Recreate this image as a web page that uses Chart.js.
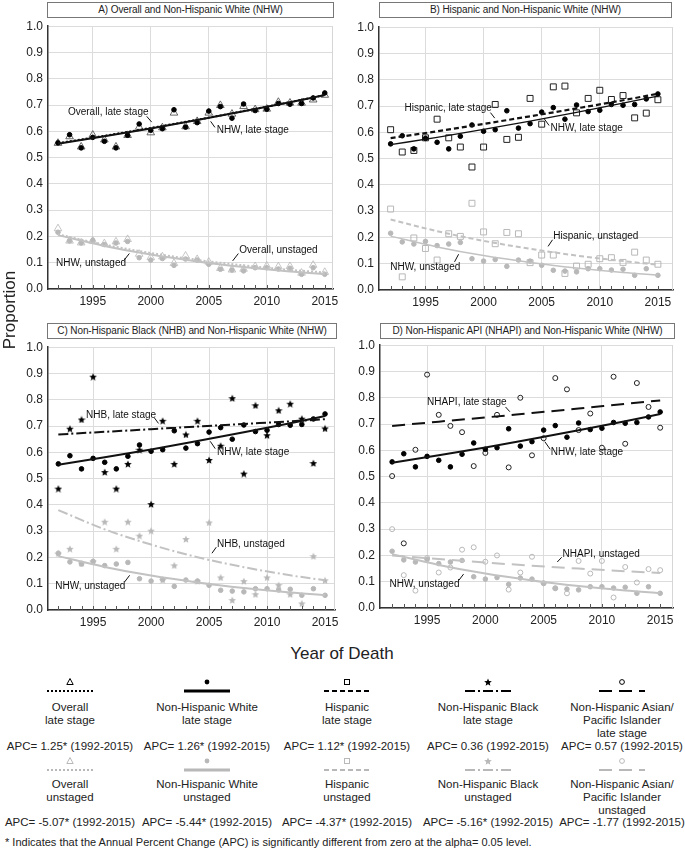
<!DOCTYPE html>
<html>
<head>
<meta charset="utf-8">
<script src="https://cdn.jsdelivr.net/npm/chart.js@4"></script>
<style>
  body { margin: 0; background: #fff; font-family: "Liberation Sans", Arial, sans-serif; color: #222; }
  #page { position: relative; width: 685px; height: 849px; overflow: hidden; }
  canvas.panel { position: absolute; }
  .ptitle { position: absolute; border: 1px solid #777; font-size: 10px; text-align: center; white-space: nowrap;
            line-height: 14px; height: 14px; background: #fff; letter-spacing: -0.1px; }
  .axis-y { position: absolute; left: -40px; top: 300px; width: 100px; text-align: center;
            font-size: 17px; transform: rotate(-90deg); }
  .axis-x { position: absolute; left: 242px; top: 644px; width: 200px; text-align: center; font-size: 17px; }
  .leg-sample { position: absolute; }
  .leg-text { position: absolute; width: 160px; text-align: center; font-size: 11.5px; line-height: 13px; white-space: nowrap; }
  .foot { position: absolute; left: 5px; top: 836px; font-size: 11px; }
</style>
</head>
<body>
<div id="page">
  <div class="ptitle" style="left:47px; top:2px; width:285px;">A) Overall and Non-Hispanic White (NHW)</div>
  <div class="ptitle" style="left:379px; top:2px; width:291px;">B) Hispanic and Non-Hispanic White (NHW)</div>
  <div class="ptitle" style="left:47px; top:323px; width:288px;">C) Non-Hispanic Black (NHB) and Non-Hispanic White (NHW)</div>
  <div class="ptitle" style="left:380px; top:323px; width:293px;">D) Non-Hispanic API (NHAPI) and Non-Hispanic White (NHW)</div>
  <canvas class="panel" id="chartA"></canvas>
  <canvas class="panel" id="chartB"></canvas>
  <canvas class="panel" id="chartC"></canvas>
  <canvas class="panel" id="chartD"></canvas>
  <div class="axis-y">Proportion</div>
  <div class="axis-x">Year of Death</div>
  <div id="legend"></div>
  <div class="foot">* Indicates that the Annual Percent Change (APC) is significantly different from zero at the alpha= 0.05 level.</div>
</div>
<script>
// années observées
const years = [1992, 1993, 1994, 1995, 1996, 1997, 1998, 1999, 2000, 2001, 2002, 2003,
               2004, 2005, 2006, 2007, 2008, 2009, 2010, 2011, 2012, 2013, 2014, 2015];

// proportions observées, stade tardif
const overallLate = [0.555, 0.580, 0.541, 0.586, 0.568, 0.541, 0.585, 0.616, 0.595, 0.614, 0.670, 0.618,
                     0.638, 0.670, 0.699, 0.666, 0.695, 0.683, 0.685, 0.711, 0.708, 0.708, 0.720, 0.738];
const nhwLate = [0.556, 0.587, 0.537, 0.577, 0.562, 0.537, 0.585, 0.628, 0.604, 0.610, 0.682, 0.616,
                 0.633, 0.677, 0.694, 0.650, 0.704, 0.679, 0.684, 0.706, 0.703, 0.706, 0.727, 0.746];
const hispLate = [0.610, 0.525, 0.531, 0.579, 0.650, 0.579, 0.544, 0.468, 0.544, 0.706, 0.573, 0.581,
                  0.729, 0.631, 0.773, 0.776, 0.674, 0.729, 0.760, 0.725, 0.740, 0.655, 0.673, 0.724];
const nhbLate = [0.462, 0.690, 0.725, 0.888, 0.525, 0.462, 0.556, 0.610, 0.403, 0.720, 0.556, 0.668,
                 0.720, 0.571, 0.625, 0.806, 0.519, 0.779, 0.665, 0.760, 0.785, 0.728, 0.559, 0.691];
const nhapiLate = [0.502, 0.246, 0.602, 0.888, 0.735, 0.693, 0.669, 0.540, 0.590, 0.735, 0.535, 0.800,
                   0.581, 0.646, 0.875, 0.832, 0.677, 0.740, 0.610, 0.880, 0.625, 0.856, 0.765, 0.686];

// proportions observées, non stadifié
const overallUnst = [0.230, 0.183, 0.176, 0.183, 0.173, 0.180, 0.189, 0.133, 0.120, 0.123, 0.098, 0.126,
                     0.113, 0.103, 0.079, 0.073, 0.076, 0.086, 0.088, 0.085, 0.086, 0.061, 0.091, 0.064];
const nhwUnst = [0.216, 0.183, 0.175, 0.185, 0.169, 0.175, 0.181, 0.119, 0.110, 0.116, 0.090, 0.114,
                 0.110, 0.094, 0.075, 0.072, 0.069, 0.081, 0.081, 0.076, 0.079, 0.056, 0.081, 0.056];
const hispUnst = [0.308, 0.050, 0.198, 0.158, 0.114, 0.214, 0.204, 0.330, 0.221, 0.176, 0.219, 0.214,
                  0.104, 0.133, 0.133, 0.063, 0.091, 0.098, 0.119, 0.123, 0.105, 0.144, 0.114, 0.098];
const nhbUnst = [0.215, 0.233, 0.178, 0.185, 0.336, 0.233, 0.336, 0.283, 0.302, 0.115, 0.170, 0.270,
                 0.110, 0.333, 0.124, 0.038, 0.110, 0.060, 0.124, 0.095, 0.060, 0.025, 0.205, 0.113];
const nhapiUnst = [0.300, 0.125, 0.066, 0.190, 0.135, 0.154, 0.222, 0.231, 0.176, 0.200, 0.070, 0.135,
                   0.195, 0.094, 0.075, 0.056, 0.179, 0.131, 0.179, 0.040, 0.156, 0.097, 0.148, 0.144];

// courbes ajustées
const fitYears = [1992, 1996, 2000, 2004, 2008, 2012, 2015];
const overallLateFit = [0.555, 0.583, 0.613, 0.644, 0.677, 0.711, 0.738];
const nhwLateFit = [0.553, 0.581, 0.611, 0.643, 0.676, 0.711, 0.738];
const hispLateFit = [0.578, 0.604, 0.632, 0.661, 0.691, 0.722, 0.747];
const nhbLateFit = [0.668, 0.678, 0.688, 0.698, 0.708, 0.718, 0.726];
const nhapiLateFit = [0.693, 0.709, 0.725, 0.742, 0.759, 0.777, 0.790];
const overallUnstFit = [0.208, 0.169, 0.137, 0.111, 0.090, 0.073, 0.063];
const nhwUnstFit = [0.205, 0.164, 0.131, 0.105, 0.084, 0.067, 0.057];
const hispUnstFit = [0.268, 0.224, 0.187, 0.157, 0.131, 0.110, 0.096];
const nhbUnstFit = [0.380, 0.307, 0.249, 0.201, 0.163, 0.132, 0.113];
const nhapiUnstFit = [0.200, 0.186, 0.173, 0.161, 0.150, 0.140, 0.133];

// légende
const groupNames = ['Overall', 'Non-Hispanic White', 'Hispanic', 'Non-Hispanic Black',
                    'Non-Hispanic Asian/\nPacific Islander'];
const apcLate = ['1.25*', '1.26*', '1.12*', '0.36', '0.57'];
const apcUnst = ['-5.07*', '-5.44*', '-4.37*', '-5.16*', '-1.77'];
const apcPeriod = '(1992-2015)';

const BLACK = '#111';
const GREY = '#c2c2c2';
const GREY_PT = '#b8b8b8';
const DOT = [2, 2], DASH = [5, 3], DASHDOT = [10, 3, 2, 3], LONGDASH = [13, 7];
const FONT = '"Liberation Sans", Arial, sans-serif';

// étoile pleine à 5 branches (pointStyle image)
function starImage(color, size) {
    const c = document.createElement('canvas');
    c.width = c.height = size;
    const g = c.getContext('2d');
    const R = size / 2, r = R * 0.45;
    g.beginPath();
    for (let i = 0; i < 10; i++) {
        const ang = -Math.PI / 2 + i * Math.PI / 5;
        const rad = i % 2 ? r : R;
        g.lineTo(R + rad * Math.cos(ang), R + 0.5 + rad * Math.sin(ang));
    }
    g.closePath();
    g.fillStyle = color;
    g.fill();
    return c;
}
const starBlack = starImage('#000', 8);
const starGrey = starImage(GREY_PT, 8);

function points(vals, style, color, radius, filled, bw) {
    return {
        data: years.map((yr, i) => ({ x: yr, y: vals[i] })),
        showLine: false,
        pointStyle: style,
        pointRadius: radius,
        pointBorderWidth: bw || 1,
        pointBorderColor: color,
        pointBackgroundColor: filled ? color : 'rgba(0,0,0,0)'
    };
}

function fitLine(vals, color, dash, width) {
    return {
        data: fitYears.map((yr, i) => ({ x: yr, y: vals[i] })),
        borderColor: color,
        borderDash: dash,
        borderWidth: width,
        pointRadius: 0,
        cubicInterpolationMode: 'monotone',
        fill: false
    };
}

// bord droit, petites graduations internes, étiquettes avec traits de rappel
const panelDecor = {
    id: 'panelDecor',
    afterDraw(chart, args, opts) {
        const { ctx, chartArea: a, scales: { x, y } } = chart;
        ctx.save();
        ctx.lineWidth = 1;
        ctx.strokeStyle = '#d6d6d6';
        ctx.beginPath();
        ctx.moveTo(Math.round(a.right) - 0.5, a.top);
        ctx.lineTo(Math.round(a.right) - 0.5, a.bottom);
        ctx.stroke();
        ctx.strokeStyle = '#555';
        years.forEach(v => {
            const px = Math.round(x.getPixelForValue(v)) + 0.5;
            ctx.beginPath();
            ctx.moveTo(px, a.bottom);
            ctx.lineTo(px, a.bottom - 4);
            ctx.stroke();
        });
        ctx.font = '10px ' + FONT;
        ctx.fillStyle = '#111';
        ctx.strokeStyle = '#111';
        ctx.textBaseline = 'middle';
        (opts.notes || []).forEach(n => {
            ctx.fillText(n.t, x.getPixelForValue(n.at[0]), y.getPixelForValue(n.at[1]));
            ctx.beginPath();
            ctx.moveTo(x.getPixelForValue(n.lead[0]), y.getPixelForValue(n.lead[1]));
            ctx.lineTo(x.getPixelForValue(n.lead[2]), y.getPixelForValue(n.lead[3]));
            ctx.stroke();
        });
        ctx.restore();
    }
};

function makePanel(id, box, datasets, notes) {
    const cv = document.getElementById(id);
    const padTop = 10, padRight = 20, yW = 48, xH = 22;
    cv.width = (box.r - box.l) + yW + padRight;
    cv.height = (box.b - box.t) + padTop + xH;
    cv.style.left = (box.l - yW) + 'px';
    cv.style.top = (box.t - padTop) + 'px';

    new Chart(cv, {
        type: 'line',
        data: { datasets },
        options: {
            responsive: false,
            animation: false,
            events: [],
            layout: { padding: { top: padTop, right: padRight, left: 0, bottom: 0 } },
            plugins: {
                legend: { display: false },
                tooltip: { enabled: false },
                panelDecor: { notes }
            },
            scales: {
                x: {
                    type: 'linear',
                    min: box.xmin,
                    max: box.xmax,
                    afterBuildTicks: s => { s.ticks = years.map(v => ({ value: v })); },
                    afterFit: s => { s.height = xH; },
                    grid: {
                        drawTicks: false,
                        color: c => (c.tick && c.tick.value % 5 === 0 && c.tick.value < 2015) ? '#dcdcdc' : 'rgba(0,0,0,0)'
                    },
                    border: { color: '#333', width: 1.5 },
                    ticks: {
                        autoSkip: false,
                        maxRotation: 0,
                        padding: 5,
                        color: '#222',
                        font: { family: FONT, size: 12 },
                        callback: v => (v % 5 === 0 ? String(v) : '')
                    }
                },
                y: {
                    min: 0,
                    max: 1,
                    afterFit: s => { s.width = yW; },
                    grid: { drawTicks: false, color: '#dcdcdc' },
                    border: { color: '#333', width: 1.5 },
                    ticks: {
                        stepSize: 0.1,
                        padding: 5,
                        color: '#222',
                        font: { family: FONT, size: 12 },
                        callback: v => Number(v).toFixed(1)
                    }
                }
            }
        },
        plugins: [panelDecor]
    });
}

// panneau A
makePanel('chartA', { l: 48, t: 24, r: 333, b: 289, xmin: 1991.14, xmax: 2015.71 }, [
    fitLine(nhwUnstFit, GREY, [], 2),
    fitLine(overallUnstFit, GREY, DOT, 2),
    points(nhwUnst, 'circle', GREY_PT, 2.3, true),
    points(overallUnst, 'triangle', GREY_PT, 4.4, false, 0.8),
    fitLine(nhwLateFit, BLACK, [], 2),
    fitLine(overallLateFit, BLACK, DOT, 2),
    points(nhwLate, 'circle', '#000', 2.3, true),
    points(overallLate, 'triangle', '#444', 4.4, false, 0.8)
], [
    { t: 'Overall, late stage', at: [1992.86, 0.673], lead: [1999.65, 0.657, 2000.08, 0.635] },
    { t: 'NHW, late stage', at: [2005.68, 0.603], lead: [2005.53, 0.615, 2005.16, 0.638] },
    { t: 'Overall, unstaged', at: [2007.63, 0.147], lead: [2007.55, 0.135, 2007.06, 0.107] },
    { t: 'NHW, unstaged', at: [1991.83, 0.099], lead: [1997.69, 0.109, 1998.15, 0.135] }
]);

// panneau B
makePanel('chartB', { l: 379, t: 25, r: 673, b: 290, xmin: 1991.0, xmax: 2016.3 }, [
    fitLine(nhwUnstFit, GREY, [], 1.5),
    fitLine(hispUnstFit, GREY, DASH, 2),
    points(nhwUnst, 'circle', GREY_PT, 2.3, true),
    points(hispUnst, 'rect', GREY_PT, 4.2, false),
    fitLine(nhwLateFit, BLACK, [], 1.3),
    fitLine(hispLateFit, BLACK, DASH, 2.2),
    points(nhwLate, 'circle', '#000', 2.3, true),
    points(hispLate, 'rect', '#222', 4.2, false)
], [
    { t: 'Hispanic, late stage', at: [1993.2, 0.69], lead: [2000.59, 0.675, 2000.96, 0.654] },
    { t: 'NHW, late stage', at: [2005.76, 0.614], lead: [2005.64, 0.626, 2005.18, 0.654] },
    { t: 'Hispanic, unstaged', at: [2006.0, 0.204], lead: [2005.93, 0.191, 2005.55, 0.166] },
    { t: 'NHW, unstaged', at: [1991.97, 0.088], lead: [1997.5, 0.107, 1997.85, 0.136] }
]);

// panneau C
makePanel('chartC', { l: 48, t: 345, r: 335, b: 610, xmin: 1991.11, xmax: 2015.86 }, [
    fitLine(nhwUnstFit, GREY, [], 2),
    fitLine(nhbUnstFit, GREY, DASHDOT, 2),
    points(nhwUnst, 'circle', GREY_PT, 2.3, true),
    points(nhbUnst, starGrey, GREY_PT, 3.5, true),
    fitLine(nhwLateFit, BLACK, [], 2),
    fitLine(nhbLateFit, BLACK, DASHDOT, 2),
    points(nhwLate, 'circle', '#000', 2.3, true),
    points(nhbLate, starBlack, '#000', 3.5, true)
], [
    { t: 'NHB, late stage', at: [1994.39, 0.742], lead: [2000.27, 0.732, 2000.64, 0.71] },
    { t: 'NHW, late stage', at: [2005.68, 0.601], lead: [2005.53, 0.614, 2005.1, 0.642] },
    { t: 'NHB, unstaged', at: [2005.68, 0.252], lead: [2005.62, 0.239, 2005.25, 0.216] },
    { t: 'NHW, unstaged', at: [1991.74, 0.09], lead: [1997.72, 0.107, 1998.15, 0.132] }
]);

// panneau D
makePanel('chartD', { l: 380, t: 343, r: 673, b: 608, xmin: 1990.96, xmax: 2016.1 }, [
    fitLine(nhwUnstFit, GREY, [], 2),
    fitLine(nhapiUnstFit, GREY, LONGDASH, 2),
    points(nhwUnst, 'circle', GREY_PT, 2.3, true),
    points(nhapiUnst, 'circle', GREY_PT, 2.5, false),
    fitLine(nhwLateFit, BLACK, [], 2),
    fitLine(nhapiLateFit, BLACK, LONGDASH, 2),
    points(nhwLate, 'circle', '#000', 2.3, true),
    points(nhapiLate, 'circle', '#222', 2.5, false)
], [
    { t: 'NHAPI, late stage', at: [1995.0, 0.782], lead: [2001.73, 0.765, 2002.1, 0.747] },
    { t: 'NHW, late stage', at: [2005.62, 0.591], lead: [2005.56, 0.604, 2005.1, 0.633] },
    { t: 'NHAPI, unstaged', at: [2006.62, 0.206], lead: [2006.55, 0.193, 2006.17, 0.175] },
    { t: 'NHW, unstaged', at: [1991.77, 0.089], lead: [1997.72, 0.105, 1998.13, 0.129] }
]);

// légende du bas : symbole + trait, nom du groupe, APC
const legendCenters = [70, 207, 347, 488, 622];
const legendMarks = ['triangle', 'circle', 'square', 'star', 'ocircle'];
const legendDashes = [DOT, [], DASH, DASHDOT, LONGDASH];
const legendRows = [
    { color: '#000', suffix: 'late stage', apc: apcLate, symTop: 674, textTop: 701, apcTop: 740 },
    { color: GREY_PT, suffix: 'unstaged', apc: apcUnst, symTop: 753, textTop: 778, apcTop: 816 }
];

function drawSample(cv, mark, dash, color) {
    const g = cv.getContext('2d');
    const mx = 30, my = 8;
    g.fillStyle = color;
    g.strokeStyle = color;
    g.lineWidth = 1;
    if (mark === 'triangle') {
        g.beginPath(); g.moveTo(mx, my - 3.5); g.lineTo(mx + 3.2, my + 2.5); g.lineTo(mx - 3.2, my + 2.5); g.closePath(); g.stroke();
    } else if (mark === 'circle') {
        g.beginPath(); g.arc(mx, my, 2.4, 0, Math.PI * 2); g.fill();
    } else if (mark === 'square') {
        g.strokeRect(mx - 2.5, my - 2.5, 5, 5);
    } else if (mark === 'star') {
        const img = color === '#000' ? starBlack : starGrey;
        g.drawImage(img, mx - 4, my - 4);
    } else {
        g.beginPath(); g.arc(mx, my, 2.4, 0, Math.PI * 2); g.stroke();
    }
    g.lineWidth = mark === 'circle' ? 3 : 2;
    g.setLineDash(dash);
    g.beginPath(); g.moveTo(7, 17); g.lineTo(53, 17); g.stroke();
}

const legend = document.getElementById('legend');
legendRows.forEach(row => {
    legendCenters.forEach((cx, i) => {
        const cv = document.createElement('canvas');
        cv.className = 'leg-sample';
        cv.width = 60; cv.height = 22;
        cv.style.left = (cx - 30) + 'px';
        cv.style.top = row.symTop + 'px';
        legend.appendChild(cv);
        drawSample(cv, legendMarks[i], legendDashes[i], row.color);

        const txt = document.createElement('div');
        txt.className = 'leg-text';
        txt.style.left = (cx - 80) + 'px';
        txt.style.top = row.textTop + 'px';
        txt.innerHTML = (groupNames[i] + '\n' + row.suffix).split('\n').join('<br>');
        legend.appendChild(txt);

        const apc = document.createElement('div');
        apc.className = 'leg-text';
        apc.style.left = (cx - 80) + 'px';
        apc.style.top = row.apcTop + 'px';
        apc.textContent = 'APC= ' + row.apc[i] + ' ' + apcPeriod;
        legend.appendChild(apc);
    });
});
</script>
</body>
</html>
